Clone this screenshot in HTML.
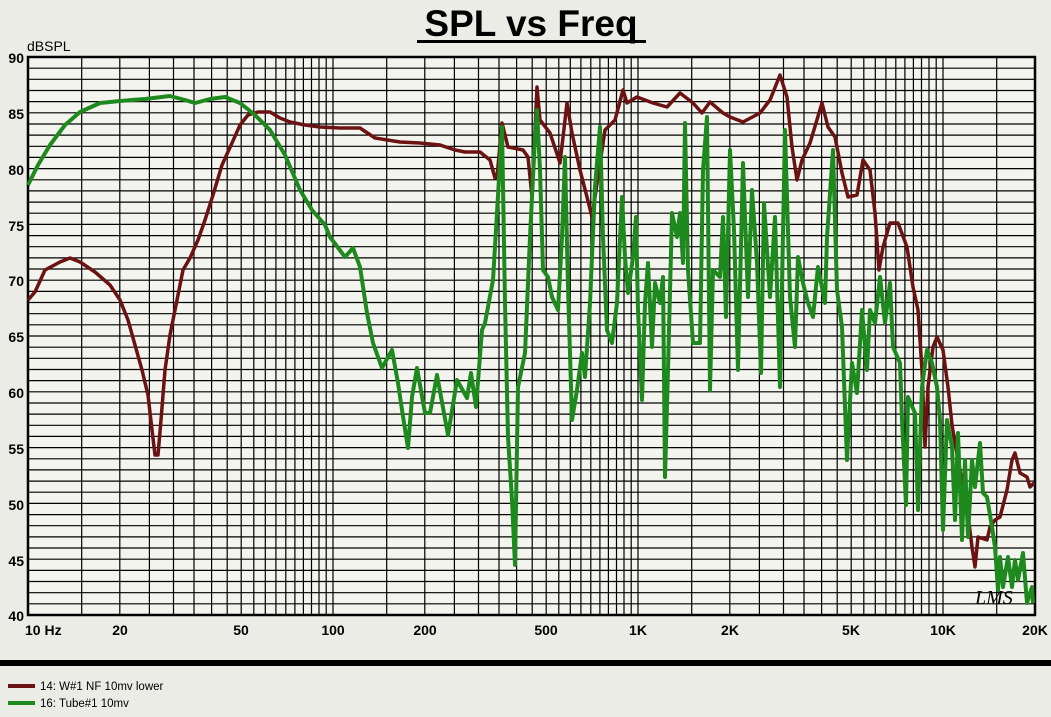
<!DOCTYPE html>
<html><head><meta charset="utf-8"><style>
html,body{margin:0;padding:0;background:#eeeeea;}
svg{display:block;font-family:"Liberation Sans",sans-serif;}
</style></head><body>
<svg width="1051" height="717" viewBox="0 0 1051 717" xmlns="http://www.w3.org/2000/svg">
<rect width="1051" height="717" fill="#ecece7"/>
<text x="531" y="36" font-size="37" font-weight="bold" text-anchor="middle" fill="#000">SPL vs Freq</text>
<rect x="417" y="40" width="229" height="3" fill="#000"/>
<rect x="28" y="57" width="1007" height="558" fill="#f4f4ef"/>
<path stroke="#000" stroke-width="1.2" fill="none" d="M28 68.2H1035M28 79.3H1035M28 90.5H1035M28 101.6H1035M28 112.8H1035M28 124H1035M28 135.1H1035M28 146.3H1035M28 157.4H1035M28 168.6H1035M28 179.8H1035M28 190.9H1035M28 202.1H1035M28 213.2H1035M28 224.4H1035M28 235.6H1035M28 246.7H1035M28 257.9H1035M28 269H1035M28 280.2H1035M28 291.4H1035M28 302.5H1035M28 313.7H1035M28 324.8H1035M28 336H1035M28 347.2H1035M28 358.3H1035M28 369.5H1035M28 380.6H1035M28 391.8H1035M28 403H1035M28 414.1H1035M28 425.3H1035M28 436.4H1035M28 447.6H1035M28 458.8H1035M28 469.9H1035M28 481.1H1035M28 492.2H1035M28 503.4H1035M28 514.6H1035M28 525.7H1035M28 536.9H1035M28 548H1035M28 559.2H1035M28 570.4H1035M28 581.5H1035M28 592.7H1035M28 603.8H1035
M81.7 57V615M119.8 57V615M149.4 57V615M173.5 57V615M194 57V615M211.6 57V615M227.2 57V615M241.2 57V615M253.8 57V615M265.3 57V615M275.9 57V615M285.8 57V615M294.9 57V615M303.4 57V615M311.5 57V615M319 57V615M326.2 57V615M333 57V615
M386.7 57V615M424.8 57V615M454.4 57V615M478.5 57V615M499 57V615M516.6 57V615M532.2 57V615M546.2 57V615M558.8 57V615M570.3 57V615M580.9 57V615M590.8 57V615M599.9 57V615M608.4 57V615M616.5 57V615M624 57V615M631.2 57V615M638 57V615
M691.7 57V615M729.8 57V615M759.4 57V615M783.5 57V615M804 57V615M821.6 57V615M837.2 57V615M851.2 57V615M863.8 57V615M875.3 57V615M885.9 57V615M895.8 57V615M904.9 57V615M913.4 57V615M921.5 57V615M929 57V615M936.2 57V615M943 57V615M996.7 57V615"/>
<rect x="28" y="57" width="1007" height="558" fill="none" stroke="#000" stroke-width="2.5"/>
<g font-size="14" fill="#000" font-weight="bold">
<text x="27" y="51" font-weight="normal">dBSPL</text>
<text x="24" y="63" text-anchor="end">90</text>
<text x="24" y="119" text-anchor="end">85</text>
<text x="24" y="175" text-anchor="end">80</text>
<text x="24" y="231" text-anchor="end">75</text>
<text x="24" y="286" text-anchor="end">70</text>
<text x="24" y="342" text-anchor="end">65</text>
<text x="24" y="398" text-anchor="end">60</text>
<text x="24" y="454" text-anchor="end">55</text>
<text x="24" y="510" text-anchor="end">50</text>
<text x="24" y="566" text-anchor="end">45</text>
<text x="24" y="621" text-anchor="end">40</text>
<text x="25" y="635">10  Hz</text>
<text x="120" y="635" text-anchor="middle">20</text>
<text x="241" y="635" text-anchor="middle">50</text>
<text x="333" y="635" text-anchor="middle">100</text>
<text x="425" y="635" text-anchor="middle">200</text>
<text x="546" y="635" text-anchor="middle">500</text>
<text x="638" y="635" text-anchor="middle">1K</text>
<text x="730" y="635" text-anchor="middle">2K</text>
<text x="851" y="635" text-anchor="middle">5K</text>
<text x="943" y="635" text-anchor="middle">10K</text>
<text x="1035" y="635" text-anchor="middle">20K</text>
</g>
<text x="975" y="604" font-size="20" font-style="italic" fill="#000" font-family="Liberation Serif,serif">LMS</text>
<polyline fill="none" stroke="#6b1212" stroke-width="3.5" stroke-linejoin="round" points="28,300 35,292 45,270 60,262 70,258 80,262 95,272 110,285 120,300 128,320 135,345 142,370 148,395 152,430 155,455 158,455 161,420 165,370 170,335 177,300 183,270 190,258 198,240 205,220 213,195 222,165 232,143 240,125 248,115 258,112 270,112 280,118 290,122 305,125 320,127 340,128 360,128 375,138 400,142 420,143 440,145 455,150 465,152 480,152 490,160 495,178 497,177 502,123 508,147 523,150 528,157 532,197 537,87 540,120 550,133 560,163 567,103 572,133 580,170 587,197 592,217 605,130 615,120 623,90 627,103 637,97 653,103 667,107 680,93 693,103 702,113 710,102 723,113 730,117 743,122 760,113 770,100 780,75 787,97 792,147 797,180 802,160 810,143 822,103 828,127 835,137 842,173 848,197 857,195 863,160 870,170 875,213 879,270 883,247 890,223 898,223 907,247 913,287 918,310 922,370 925,447 928,387 933,347 937,337 943,350 948,387 952,425 958,460 967,507 972,547 975,567 978,537 987,540 990,527 995,520 1000,517 1007,490 1012,460 1015,453 1020,473 1027,477 1030,487 1034,483"/>
<polyline fill="none" stroke="#1e8a1e" stroke-width="4" stroke-linejoin="round" points="28,185 38,165 50,145 65,125 80,112 100,103 120,101 145,99 170,96 185,100 195,103 210,99 225,97 240,103 255,115 270,130 285,155 300,190 312,210 325,225 330,237 345,257 353,248 360,267 367,313 373,343 382,368 392,350 398,383 402,410 408,448 412,397 417,368 425,413 430,413 437,375 448,435 457,380 467,398 471,373 476,407 482,330 485,323 493,280 496,230 502,127 505,303 508,437 512,500 515,565 518,387 525,353 530,237 535,137 537,110 540,170 543,270 548,277 552,297 558,310 562,237 565,157 568,287 572,420 577,390 582,353 585,377 590,303 595,187 600,127 603,237 607,330 612,343 617,303 622,197 625,257 628,293 633,257 636,217 638,310 642,400 645,303 648,263 652,347 655,283 660,303 663,277 665,477 668,370 672,213 677,237 680,213 683,263 685,123 688,270 693,343 700,343 703,170 707,117 710,390 713,270 720,277 723,217 726,317 730,150 734,230 738,370 743,163 748,297 752,190 757,263 761,373 764,203 770,297 775,217 780,387 785,130 790,297 795,347 798,257 803,283 808,303 813,317 818,267 825,303 827,237 833,150 837,290 842,327 847,460 852,363 857,393 862,310 867,370 870,310 875,323 880,277 885,323 890,283 893,347 900,363 902,420 906,505 908,397 915,413 918,510 922,387 927,350 932,363 937,387 940,420 943,530 947,420 952,447 955,520 958,433 962,540 965,460 968,537 972,460 975,487 980,443 983,493 987,497 992,527 995,547 998,590 1000,557 1003,587 1008,557 1012,587 1015,560 1018,580 1023,553 1027,603 1032,587 1033,603"/>
<rect x="0" y="660" width="1051" height="6" fill="#000"/>
<rect x="8" y="684" width="27" height="4" fill="#6b1212"/>
<rect x="8" y="701" width="27" height="4" fill="#1e8a1e"/>
<text x="40" y="690" font-size="11.5" fill="#000">14: W#1 NF 10mv lower</text>
<text x="40" y="707" font-size="11.5" fill="#000">16: Tube#1 10mv</text>
</svg>
</body></html>
